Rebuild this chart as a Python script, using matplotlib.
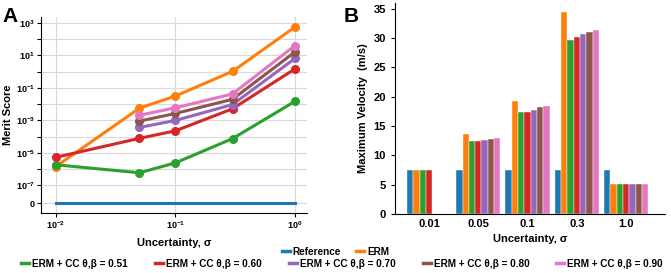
import numpy as np
import matplotlib
matplotlib.use("Agg")
import matplotlib.pyplot as plt
from matplotlib.lines import Line2D

plt.rcParams['font.family'] = ['Liberation Sans', 'DejaVu Sans']
plt.rcParams['font.weight'] = 'bold'
plt.rcParams['mathtext.fontset'] = 'custom'
plt.rcParams['mathtext.rm'] = 'Liberation Sans:bold'
plt.rcParams['mathtext.bf'] = 'Liberation Sans:bold'
plt.rcParams['mathtext.it'] = 'Liberation Sans:bold:italic'

# data
sigma = [0.01, 0.05, 0.1, 0.3, 1.0]
sigma_labels = ['0.01', '0.05', '0.1', '0.3', '1.0']
names = ['Reference', 'ERM',
         'ERM + CC θ,β = 0.51', 'ERM + CC θ,β = 0.60', 'ERM + CC θ,β = 0.70',
         'ERM + CC θ,β = 0.80', 'ERM + CC θ,β = 0.90']
colors = ['#1f77b4', '#ff7f0e', '#2ca02c', '#d62728', '#9467bd', '#8c564b', '#e377c2']

# merit score (nan = not available)
merit_ref = [0, 0, 0, 0, 0]
merit_erm = [1.45e-6, 5.7e-3, 0.032, 1.05, 570]
merit_051 = [1.85e-6, 6e-7, 2.45e-6, 7.6e-5, 0.015]
merit_060 = [5.4e-6, 7.9e-5, 2.3e-4, 5.2e-3, 1.5]
merit_070 = [np.nan, 3.7e-4, 1.0e-3, 9.5e-3, 6.6]
merit_080 = [np.nan, 9.1e-4, 2.7e-3, 0.02, 16.6]
merit_090 = [np.nan, 2.1e-3, 6.0e-3, 0.043, 41]

# maximum velocity (m/s)
vel_ref = [7.5, 7.5, 7.5, 7.5, 7.5]
vel_erm = [7.5, 13.6, 19.2, 34.5, 5.1]
vel_051 = [7.5, 12.4, 17.4, 29.7, 5.1]
vel_060 = [7.5, 12.5, 17.4, 30.2, 5.1]
vel_070 = [0, 12.7, 17.8, 30.7, 5.1]
vel_080 = [0, 12.8, 18.3, 31.1, 5.1]
vel_090 = [0, 13.0, 18.4, 31.4, 5.1]

merits = [merit_ref, merit_erm, merit_051, merit_060, merit_070, merit_080, merit_090]
vels = [vel_ref, vel_erm, vel_051, vel_060, vel_070, vel_080, vel_090]

fig = plt.figure(figsize=(6.71, 2.73), dpi=100)

# ---- panel A
axA = fig.add_axes([41/671, 60/273, 266/671, 196/273])
for i, m in enumerate(merits):
    if i == 0:
        axA.plot(sigma, m, color=colors[i], lw=2.2, zorder=3)
    else:
        axA.plot(sigma, m, color=colors[i], lw=2.2, marker='o', ms=5.5, zorder=3)
axA.set_xscale('log')
axA.set_yscale('symlog', linthresh=1e-7, linscale=1)
axA.set_xlim(0.0075, 1.26)
axA.set_ylim(-0.53e-7, 10**3.37)
decades = [10.0**k for k in range(-7, 4)]
axA.set_yticks([0] + decades)
ylabs = ['0'] + [(r'$10^{%d}$' % k if k % 2 == 1 else '') for k in range(-7, 4)]
axA.set_yticklabels(ylabs)
axA.yaxis.set_minor_locator(matplotlib.ticker.NullLocator())
axA.set_xticks([0.01, 0.1, 1.0])
axA.set_xticklabels([r'$10^{-2}$', r'$10^{-1}$', r'$10^{0}$'])
axA.xaxis.set_minor_locator(matplotlib.ticker.NullLocator())
axA.grid(True, color='#d9d9d9', lw=0.8)
axA.set_axisbelow(True)
for s in ['top', 'right']:
    axA.spines[s].set_visible(False)
axA.tick_params(labelsize=6.5, length=3, pad=1.5)
axA.set_ylabel('Merit Score', fontsize=8, fontweight='bold')
axA.yaxis.set_label_coords(-0.105, 0.5)
axA.set_xlabel('Uncertainty, σ', fontsize=8, fontweight='bold', labelpad=5)

# ---- panel B
axB = fig.add_axes([395/671, 59/273, 270/671, 211/273])
x = np.arange(len(sigma))
w = 0.128
for i, v in enumerate(vels):
    axB.bar(x + (i - 3) * w, v, width=w, color=colors[i], edgecolor='white', lw=0.3)
axB.set_xticks(x)
axB.set_xticklabels(sigma_labels)
axB.set_xlim(-0.69, 4.79)
axB.set_ylim(0, 36)
axB.set_yticks(range(0, 36, 5))
for s in ['top', 'right']:
    axB.spines[s].set_visible(False)
axB.tick_params(axis='x', length=0, labelsize=8)
axB.tick_params(axis='y', length=3, labelsize=8)
axB.set_ylabel('Maximum Velocity  (m/s)', fontsize=8, fontweight='bold')
axB.set_xlabel('Uncertainty, σ', fontsize=8, fontweight='bold', labelpad=4)

fig.text(0.004, 0.975, 'A', fontsize=15, fontweight='bold', va='top')
fig.text(0.512, 0.975, 'B', fontsize=15, fontweight='bold', va='top')

# legends
handles = [Line2D([], [], color=c, lw=2.5) for c in colors]
fig.legend(handles[:2], names[:2], loc='center', bbox_to_anchor=(0.5, 0.077), ncol=2,
           frameon=False, fontsize=7.2, handlelength=0.8, handletextpad=0.3, columnspacing=1.5,
           borderpad=0, borderaxespad=0)
fig.legend(handles[2:], names[2:], loc='center', bbox_to_anchor=(0.51, 0.033), ncol=5,
           frameon=False, fontsize=7.2, handlelength=0.8, handletextpad=0.3, columnspacing=2.7,
           borderpad=0, borderaxespad=0)

fig.savefig('out.png', dpi=100)
